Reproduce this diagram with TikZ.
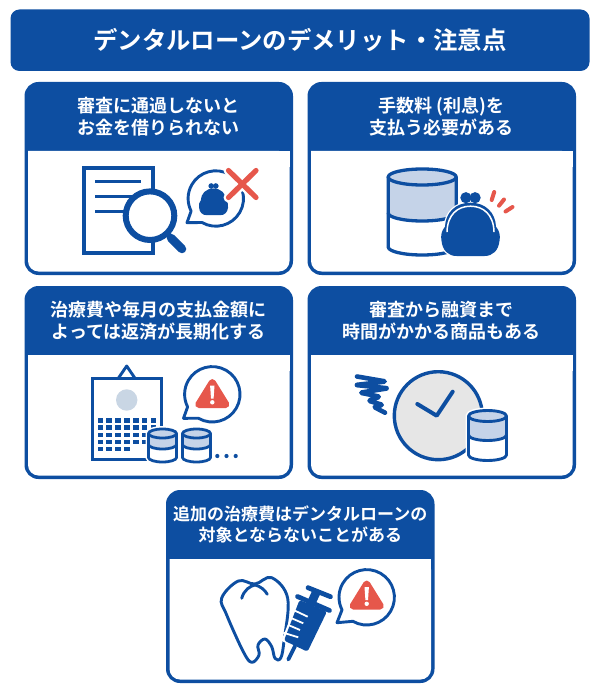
\documentclass[tikz,border=0pt]{standalone}
\usepackage{fontspec}
\setmainfont{Noto Sans CJK JP Bold}
\definecolor{navy}{HTML}{0D4EA1}
\definecolor{alert}{HTML}{E6574B}
\definecolor{pale}{HTML}{C5D3E8}
\definecolor{clockgrey}{HTML}{E6E6E6}
\definecolor{dotgrey}{HTML}{C9D6E4}
\tikzset{
  ln/.style={draw=navy,line width=2.9pt,line join=round,line cap=round},
  headtext/.style={text=white,align=center,font=\fontsize{18}{21.5}\selectfont,inner sep=0pt},
  headsmall/.style={text=white,align=center,font=\fontsize{17}{21.5}\selectfont,inner sep=0pt},
  titletext/.style={text=white,font=\fontsize{24.4}{28}\selectfont,inner sep=0pt},
}
% card: name, left, top, text style, two-line title
\newcommand{\drawcard}[5]{%
  \fill[navy,rounded corners=14pt] (#2,#3) rectangle ++(268.5,193);
  \fill[white,rounded corners=10.5pt] (#2+3.5,#3+69) -- (#2+3.5,#3+189.5) -- (#2+265,#3+189.5) -- (#2+265,#3+69) [sharp corners] -- cycle;
  \fill[white] (#2+3.5,#3+69) rectangle (#2+265,#3+85);
  \node[#4] (#1) at (#2+134.25,#3+34.5) {#5};
}
% cylinder: cx, y, rx, ry, mid offset, bottom offset, line width
\newcommand{\coin}[7]{%
  \draw[white,line width=#7pt+3pt,fill=white] (#1-#3,#2) -- (#1-#3,#2+#6) arc[start angle=180,end angle=0,x radius=#3,y radius=#4] -- (#1+#3,#2) arc[start angle=0,end angle=-180,x radius=#3,y radius=#4] -- cycle;
  \fill[pale] (#1-#3,#2) -- (#1-#3,#2+#5) arc[start angle=180,end angle=0,x radius=#3,y radius=#4] -- (#1+#3,#2) arc[start angle=0,end angle=-180,x radius=#3,y radius=#4] -- cycle;
  \draw[ln,line width=#7pt] (#1-#3,#2) -- (#1-#3,#2+#6) arc[start angle=180,end angle=0,x radius=#3,y radius=#4] -- (#1+#3,#2);
  \draw[ln,line width=#7pt] (#1-#3,#2+#5) arc[start angle=180,end angle=0,x radius=#3,y radius=#4];
  \draw[ln,line width=#7pt] (#1,#2) ellipse[x radius=#3,y radius=#4];
}
% speech bubble: cx, cy, tip x, tip y
\newcommand{\bubble}[4]{%
  \draw[ln,fill=white] (#1,#2) ++(120:27.7) arc[start angle=120,end angle=-207,radius=27.7] -- (#3,#4) -- cycle;
}
% warning sign: cx, top y
\newcommand{\warn}[2]{%
  \draw[alert,fill=alert,line width=7pt,line join=round] (#1,#2+4.5) -- (#1+13.6,#2+26.5) -- (#1-13.6,#2+26.5) -- cycle;
  \fill[white] (#1-2.2,#2+7.5) -- (#1+2.2,#2+7.5) -- (#1+1.3,#2+20.5) -- (#1-1.3,#2+20.5) -- cycle;
  \fill[white] (#1,#2+24.3) circle[radius=2.2];
}
% purse: cx, top y, scale, highlight colour
\newcommand{\purse}[4]{%
  \begin{scope}[shift={(#1,#2)},scale=#3]
    \draw[white,line width=2.5pt,fill=navy] (0,0) .. controls (-15,0) and (-25,10) .. (-25.5,24) .. controls (-29,28) and (-30,33) .. (-29,38) .. controls (-28,48) and (-22,53.3) .. (-14,53.3) -- (14,53.3) .. controls (22,53.3) and (28,48) .. (29,38) .. controls (30,33) and (29,28) .. (25.5,24) .. controls (25,10) and (15,0) .. (0,0) -- cycle;
    \fill[navy] (0,0) .. controls (-15,0) and (-25,10) .. (-25.5,24) .. controls (-29,28) and (-30,33) .. (-29,38) .. controls (-28,48) and (-22,53.3) .. (-14,53.3) -- (14,53.3) .. controls (22,53.3) and (28,48) .. (29,38) .. controls (30,33) and (29,28) .. (25.5,24) .. controls (25,10) and (15,0) .. (0,0) -- cycle;
    \fill[navy] (-4.6,-5) circle[radius=5.6];
    \fill[navy] (4.6,-5) circle[radius=5.6];
    \draw[#4,line width=1.5pt,line cap=round] (-23.5,29) .. controls (-23,12) and (-13,3.5) .. (0,3.5) .. controls (13,3.5) and (23,12) .. (23.5,29);
  \end{scope}
}
\begin{document}
\begin{tikzpicture}[x=1pt,y=-1pt]
\useasboundingbox (0,0) rectangle (600,700);
\fill[white] (0,0) rectangle (600,700);
% title
\fill[navy,rounded corners=9pt] (10.5,9.5) rectangle (589.5,71);
\node[titletext] (title) at (300,40.5) {デンタルローンのデメリット・注意点};
% cards
\drawcard{c1}{24.5}{82}{headtext}{審査に通過しないと\\お金を借りられない}
\drawcard{c2}{307.5}{82}{headtext}{手数料 (利息)を\\支払う必要がある}
\drawcard{c3}{24.5}{286}{headtext}{治療費や毎月の支払金額に\\よっては返済が長期化する}
\drawcard{c4}{307.5}{286}{headtext}{審査から融資まで\\時間がかかる商品もある}
\drawcard{c5}{166}{490}{headsmall}{追加の治療費はデンタルローンの\\対象とならないことがある}

% --- card 1 icon
\draw[navy,line width=3.2pt,fill=white] (84,168) rectangle (153,253);
\foreach \yy in {182,197,212}{\draw[navy,line width=3pt] (95,\yy) -- (141,\yy);}
\draw[navy,line width=6pt,fill=white] (150,215.7) circle[radius=24.3];
\draw[navy,line width=5pt] (167,233) -- (172,238.5);
\draw[navy,line width=8.5pt,line cap=round] (171,238) -- (182,249);
\bubble{215.8}{198.5}{187}{222.7}
\purse{213.5}{188.5}{0.5}{navy}
\draw[white,line width=10pt,line cap=round] (228.5,170.5) -- (256,197.5);
\draw[white,line width=10pt,line cap=round] (256,170.5) -- (228.5,197.5);
\draw[alert,line width=5.2pt,line cap=round] (228.5,170.5) -- (256,197.5);
\draw[alert,line width=5.2pt,line cap=round] (256,170.5) -- (228.5,197.5);

% --- card 2 icon
\coin{422.2}{177}{34}{8}{36}{70}{3.3}
\purse{470.5}{202.7}{1}{white}
\foreach \xa/\ya/\xb/\yb in {491.7/200/494.2/192,499/205.7/504/199.5,505.5/211.5/512.5/207}{
  \draw[alert,line width=4pt,line cap=round] (\xa,\ya) -- (\xb,\yb);}

% --- card 3 icon
\draw[ln] (118.3,378.3) -- (126.7,366) -- (135,378.3);
\draw[navy,line width=2.9pt,fill=white] (92.5,378.5) rectangle (161.7,459.3);
\fill[dotgrey] (126.7,400) circle[radius=10.7];
\foreach \cx in {100.3,109.2,118,126.8,135.7,144.5,153.3}{
  \foreach \cy in {420.7,427.8,434.9,442}{
    \fill[navy] (\cx-2.8,\cy-2.4) rectangle ++(5.6,4.8);}}
\foreach \cx in {100.3,109.2,118,126.8}{\fill[navy] (\cx-2.8,449-2.4) rectangle ++(5.6,4.8);}
\coin{162.5}{433.5}{14}{4.5}{11}{24}{2.8}
\coin{196.5}{433.5}{14}{4.5}{11}{24}{2.8}
\foreach \dx in {217.3,226.5,235.7}{\fill[navy] (\dx,456) circle[radius=2.1];}
\bubble{212.3}{394.3}{183.5}{418.3}
\warn{212.3}{378}

% --- card 4 icon
\draw[navy,line width=3.4pt,fill=clockgrey] (438.3,415.7) circle[radius=44];
\draw[ln,line width=4pt] (417.3,404) -- (436.7,415.7) -- (452.7,391.7);
\draw[ln,line width=4.6pt,rounded corners=1.5pt] (357,376.5) -- (386,381.5) -- (355.5,385) -- (388,388.3) -- (360,392.7) -- (380,396.7) -- (368.3,400.7) -- (383,405) -- (373.5,406.7) -- (385,412.7);
\coin{487.5}{416}{19}{5.5}{19}{39}{2.9}

% --- card 5 icon
\draw[ln,fill=white] plot[smooth cycle,tension=0.62] coordinates {(255,584) (238.3,581) (221.7,598) (226.7,615) (243.3,651.7) (251.7,662.3) (259,655) (258,645) (265,639) (271.7,646.7) (275,658.3) (280.7,658) (284,641) (287.7,598.3) (271.7,577.7)};
\draw[ln] (241.7,598.3) .. controls (244,590) and (250,586) .. (255,585) .. controls (260,586) and (265,590) .. (267.3,594.3);
% syringe
\draw[white,line width=3pt,fill=white] (299,600) -- (326.7,611.7) -- (306.7,651.7) -- (283.3,640) -- cycle;
\draw[navy,line width=4.8pt,line cap=round] (308,587.7) -- (330.5,596.7);
\fill[navy] (313,589) -- (321,592.5) -- (314,607) -- (306,604) -- cycle;
\draw[navy,line width=4.8pt,line cap=round] (297.5,596.5) -- (329.5,610.5);
\fill[navy,rounded corners=2.5pt] (299.5,600) -- (327,611.5) -- (307.5,651.7) -- (284,640.5) -- cycle;
\draw[navy,line width=3.8pt,line cap=round] (295,646) -- (288.3,659.5);
\foreach \xa/\ya/\xb/\yb in {295/610.7/307.7/616.7,291.7/618.3/303.3/623.3,288.3/625/300/630,283.3/632.7/298.3/637.3}{
  \draw[white,line width=1.8pt] (\xa,\ya) -- (\xb,\yb);}
\bubble{366.7}{597.3}{337}{622.7}
\warn{366.7}{579.5}
\end{tikzpicture}
\end{document}
